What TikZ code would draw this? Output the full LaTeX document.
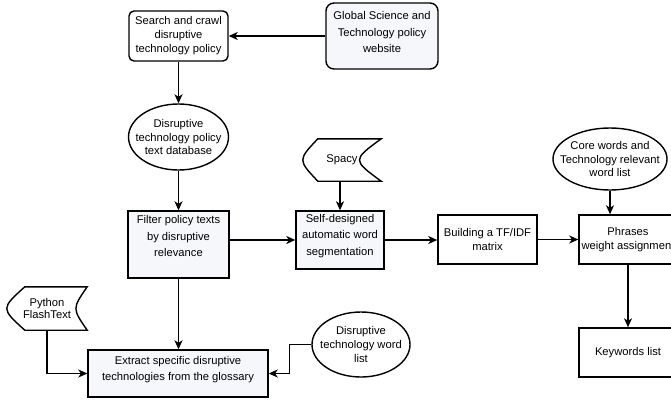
\documentclass[tikz,border=0pt]{standalone}
\usepackage{fontspec}
\setmainfont{Liberation Sans}
\usetikzlibrary{arrows.meta,shapes.geometric,calc}
\definecolor{lightfill}{RGB}{245,247,250}
\begin{document}
\begin{tikzpicture}[x=1pt,y=-1pt,
  base/.style={draw=black, line width=1.4pt, align=center, font=\fontsize{11.2}{14}\selectfont, inner sep=0pt},
  box/.style={base, rectangle},
  ell/.style={base, ellipse},
  txt/.style={align=center, inner sep=0pt, font=\fontsize{11.2}{16.5}\selectfont},
  etxt/.style={align=center, inner sep=0pt, font=\fontsize{11.2}{13.8}\selectfont},
  arr/.style={line width=1.4pt, -{Stealth[length=9pt,width=8pt,inset=2.5pt]}},
  shp/.style={line width=1.4pt},
]
\clip (0,0) rectangle (671,400);
\fill[white] (0,0) rectangle (671,400);

% nodes
\node[box, rounded corners=5pt, minimum width=99, minimum height=50] (search) at (178.5,36) {Search and crawl\\disruptive\\technology policy};
\node[box, rounded corners=8pt, fill=lightfill, minimum width=112, minimum height=66,
  label={[name=globt, txt, yshift=4pt]center:{Global Science and\\Technology policy\\website}}] (glob) at (382,36) {};
\node[ell, minimum width=100, minimum height=66,
  label={[name=dbt, etxt]center:{Disruptive\\technology policy\\text database}}] (db) at (178.5,137) {};
\node[box, fill=lightfill, minimum width=101, minimum height=67,
  label={[name=filtert, txt, yshift=8.5pt]center:{Filter policy texts\\by disruptive\\relevance}}] (filter) at (178.5,244.5) {};
\node[box, fill=lightfill, minimum width=88, minimum height=58,
  label={[name=selft, txt, yshift=4pt]center:{Self-designed\\automatic word\\segmentation}}] (self) at (340,240) {};
\node[box, minimum width=99, minimum height=49] (build) at (487.5,239.5) {Building a TF/IDF\\matrix};
\node[box, minimum width=98, minimum height=49] (phr) at (628,239.5) {Phrases\\weight assignment};
\node[box, minimum width=98, minimum height=49] (kw) at (628,352.5) {Keywords list};
\node[ell, minimum width=114, minimum height=62,
  label={[name=coret, etxt]center:{Core words and\\Technology relevant\\word list}}] (core) at (610,159) {};
\node[ell, minimum width=98, minimum height=65,
  label={[name=wlt, etxt]center:{Disruptive\\technology word\\list}}] (wl) at (361,344.5) {};
\node[box, fill=lightfill, minimum width=180, minimum height=47,
  label={[name=extt, txt, font=\fontsize{11.2}{16}\selectfont, yshift=3.5pt]center:{Extract specific disruptive\\technologies from the glossary}}] (extract) at (178,373.5) {};

% tape-like shapes
\node[align=center, inner sep=0pt, minimum width=78, minimum height=42, font=\fontsize{11.2}{14}\selectfont] (spacy) at (342,160) {Spacy};
\draw[shp] ($(spacy.north west)+(15,0)$) -- (spacy.north east)
  .. controls ($(spacy.east)+(-29,0)$) .. (spacy.south east)
  -- ($(spacy.south west)+(15,0)$)
  .. controls ($(spacy.west)+(-5,0)$) .. ($(spacy.north west)+(15,0)$) -- cycle;
\node[align=center, inner sep=0pt, minimum width=80, minimum height=43, font=\fontsize{11.2}{12.5}\selectfont] (py) at (47,308.5) {Python\\FlashText};
\draw[shp] ($(py.north west)+(18,0)$) -- (py.north east)
  .. controls ($(py.east)+(-15,0)$) .. (py.south east)
  -- ($(py.south west)+(18,0)$)
  .. controls ($(py.west)+(-6,0)$) .. ($(py.north west)+(18,0)$) -- cycle;

% connectors
\draw[arr] (glob.west) -- (search.east);
\draw[arr] (search.south) -- (db.north);
\draw[arr] (db.south) -- (filter.north);
\draw[arr] (filter.east |- self.west) -- (self.west);
\draw[arr] (self.east) -- (self.east -| build.west);
\draw[arr] (build.east) -- (build.east -| phr.west);
\draw[arr] (core.south) -- (core.south |- phr.north);
\draw[arr] (phr.south) -- (kw.north);
\draw[arr] (self.north |- spacy.south) -- (self.north);
\draw[arr] (filter.south) -- (filter.south |- extract.north);
\draw[arr] (py.south) |- (extract.west);
\draw[arr] (wl.west) -- ++(-22,0) |- (extract.east);
\end{tikzpicture}
\end{document}
